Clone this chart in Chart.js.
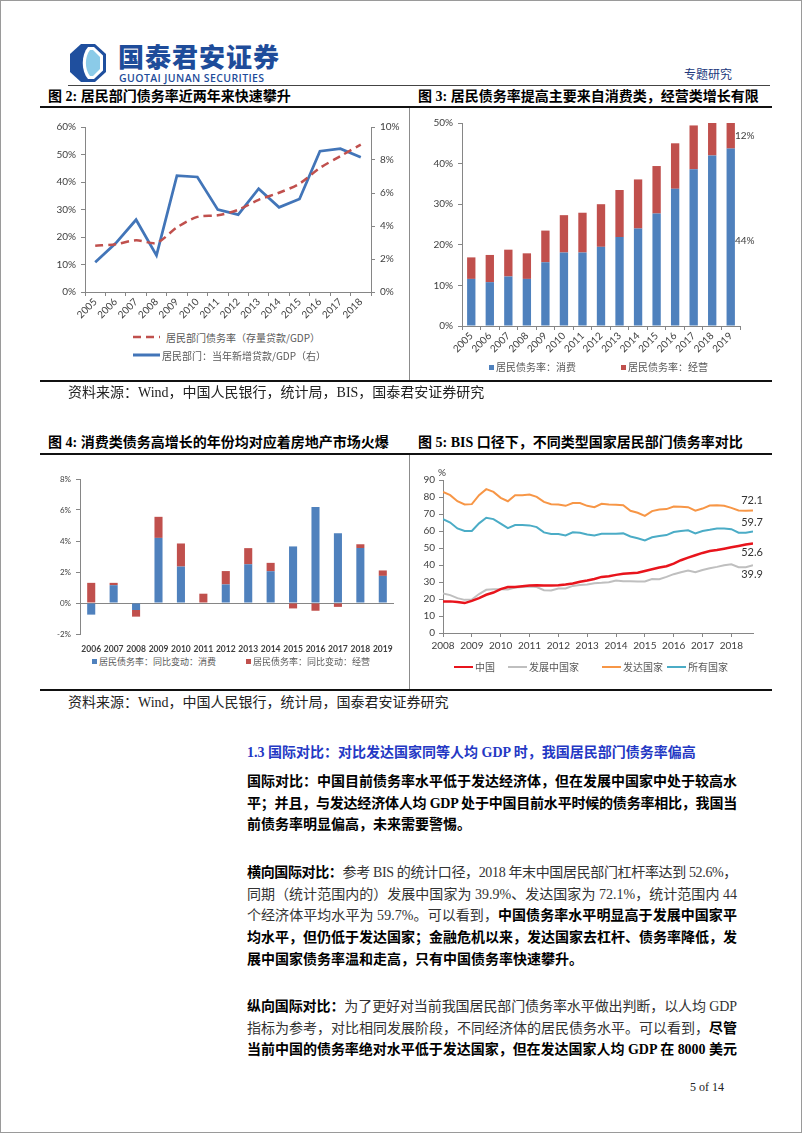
<!DOCTYPE html>
<html lang="zh-CN">
<head>
<meta charset="utf-8">
<title>居民部门债务率</title>
<script src="https://cdn.jsdelivr.net/npm/chart.js@4.4.1/dist/chart.umd.min.js"></script>
<style>
  html, body { margin: 0; padding: 0; background: #fff; }
  #page { position: relative; width: 802px; height: 1133px; overflow: hidden;
          font-family: "Liberation Serif", "Noto Sans CJK SC", serif; color: #222; }
  #page > * { position: absolute; }
  .frame { left: 0; top: 0; width: 800px; height: 1131px; border: 1px solid #9a9a9a; }
  .title { font-weight: bold; font-size: 14px; line-height: 18px; color: #000; white-space: nowrap; }
  .thick { left: 40px; width: 732px; height: 2px; background: #111; }
  .vline { left: 409px; width: 1px; background: #8c8c8c; }
  .src { left: 68px; font-size: 14px; line-height: 18px; color: #222; white-space: nowrap; }
  .lg { font-family: "Noto Sans CJK SC", sans-serif; font-size: 10px; line-height: 14px; color: #595959; white-space: nowrap; }
  .sq { display: inline-block; width: 5px; height: 5px; margin-right: 2px; vertical-align: 1px; }
  .ln { display: inline-block; width: 19px; height: 2px; margin-right: 2px; vertical-align: 3px; }
  .body { left: 247px; width: 490px; font-size: 14px; line-height: 21.7px; color: #333; }
  .body b { color: #000; font-weight: bold; }
  .body span { white-space: nowrap; }
</style>
</head>
<body>
<div id="page">
  <div class="frame"></div>

  <!-- header -->
  <svg style="left:70px;top:44px" width="36" height="38" viewBox="0 0 36 38">
    <polygon points="11,0 25,0 36,10 36,28 25,38 11,38 0,28 0,10" fill="#1f4f9e"/>
    <path d="M18,3 L24,3 L33,11.5 L33,26.5 L24,35 L18,35 C11,27 11,11 18,3Z" fill="#ffffff"/>
    <path d="M20,6 L23,6 L30,13 L30,25 L23,32 L20,32 C14.5,25 14.5,13 20,6Z" fill="#8bcbe8"/>
  </svg>
  <div style="left:118px;top:41px;font-family:'Noto Sans CJK SC';font-weight:900;font-size:26px;line-height:30px;letter-spacing:1px;color:#1e4c9a;white-space:nowrap">国泰君安证券</div>
  <div style="left:119px;top:72px;font-family:'Open Sans';font-weight:600;font-size:10.5px;line-height:12px;letter-spacing:0.4px;color:#1e4c9a;white-space:nowrap">GUOTAI JUNAN SECURITIES</div>
  <div style="left:684px;top:66px;font-family:'Noto Sans CJK SC';font-size:12px;line-height:15px;color:#22397d;white-space:nowrap">专题研究</div>
  <div style="left:68px;top:85px;width:702px;height:1px;background:#444"></div>

  <!-- row 1 -->
  <div class="title" style="left:48px;top:88px">图 2: 居民部门债务率近两年来快速攀升</div>
  <div class="title" style="left:418px;top:88px">图 3: 居民债务率提高主要来自消费类，经营类增长有限</div>
  <div class="thick" style="top:106px"></div>
  <div class="vline" style="top:108px;height:272px"></div>
  <canvas id="c2" width="360" height="215" style="left:40px;top:115px"></canvas>
  <canvas id="c3" width="390" height="245" style="left:410px;top:112px"></canvas>
  <div class="lg" style="left:133px;top:331px">
    <svg width="27" height="4" style="margin-right:6px;vertical-align:3px"><line x1="0" y1="2" x2="27" y2="2" stroke="#c0504d" stroke-width="2.5" stroke-dasharray="8,5"/></svg>居民部门债务率（存量贷款/GDP）
  </div>
  <div class="lg" style="left:133px;top:349px">
    <svg width="27" height="4" style="margin-right:2px;vertical-align:3px"><line x1="0" y1="2" x2="27" y2="2" stroke="#4275b8" stroke-width="3"/></svg>居民部门：当年新增贷款/GDP（右）
  </div>
  <div class="lg" style="left:489px;top:360px"><span class="sq" style="background:#4f81bd"></span>居民债务率：消费</div>
  <div class="lg" style="left:621px;top:360px"><span class="sq" style="background:#c0504d"></span>居民债务率：经营</div>
  <div class="thick" style="top:380px"></div>
  <div class="src" style="top:384px">资料来源：Wind，中国人民银行，统计局，BIS，国泰君安证券研究</div>

  <!-- row 2 -->
  <div class="title" style="left:48px;top:434px">图 4: 消费类债务高增长的年份均对应着房地产市场火爆</div>
  <div class="title" style="left:418px;top:434px">图 5: BIS 口径下，不同类型国家居民部门债务率对比</div>
  <div class="thick" style="top:453px"></div>
  <div class="vline" style="top:455px;height:235px"></div>
  <canvas id="c4" width="360" height="190" style="left:40px;top:465px"></canvas>
  <canvas id="c5" width="390" height="195" style="left:410px;top:465px"></canvas>
  <div class="lg" style="left:92px;top:655px;font-size:9px"><span class="sq" style="background:#4f81bd"></span>居民债务率：同比变动：消费</div>
  <div class="lg" style="left:246px;top:655px;font-size:9px"><span class="sq" style="background:#c0504d"></span>居民债务率：同比变动：经营</div>
  <div class="lg" style="left:454px;top:660px"><span class="ln" style="background:#e8141c"></span>中国</div>
  <div class="lg" style="left:508px;top:660px"><span class="ln" style="background:#bfbfbf"></span>发展中国家</div>
  <div class="lg" style="left:602px;top:660px"><span class="ln" style="background:#f79646"></span>发达国家</div>
  <div class="lg" style="left:667px;top:660px"><span class="ln" style="background:#4bacc6"></span>所有国家</div>
  <div class="thick" style="top:689px"></div>
  <div class="src" style="top:694px">资料来源：Wind，中国人民银行，统计局，国泰君安证券研究</div>

  <!-- text -->
  <div style="left:247px;top:742px;font-size:14px;line-height:22px;font-weight:bold;color:#2438c4;white-space:nowrap">1.3 国际对比：对比发达国家同等人均 GDP 时，我国居民部门债务率偏高</div>
  <div class="body" style="top:771px">
    <div><span class="jl"><b>国际对比：中国目前债务率水平低于发达经济体，但在发展中国家中处于较高水</b></span></div>
    <div><span class="jl"><b>平；并且，与发达经济体人均 GDP 处于中国目前水平时候的债务率相比，我国当</b></span></div>
    <div><span><b>前债务率明显偏高，未来需要警惕。</b></span></div>
  </div>
  <div class="body" style="top:862px">
    <div><span class="jl"><b>横向国际对比：</b>参考 BIS 的统计口径，2018 年末中国居民部门杠杆率达到 52.6%，</span></div>
    <div><span class="jl">同期（统计范围内的）发展中国家为 39.9%、发达国家为 72.1%，统计范围内 44</span></div>
    <div><span class="jl">个经济体平均水平为 59.7%。可以看到，<b>中国债务率水平明显高于发展中国家平</b></span></div>
    <div><span class="jl"><b>均水平，但仍低于发达国家；金融危机以来，发达国家去杠杆、债务率降低，发</b></span></div>
    <div><span><b>展中国家债务率温和走高，只有中国债务率快速攀升。</b></span></div>
  </div>
  <div class="body" style="top:996px">
    <div><span class="jl"><b>纵向国际对比：</b>为了更好对当前我国居民部门债务率水平做出判断，以人均 GDP</span></div>
    <div><span class="jl">指标为参考，对比相同发展阶段，不同经济体的居民债务水平。可以看到，<b>尽管</b></span></div>
    <div><span class="jl"><b>当前中国的债务率绝对水平低于发达国家，但在发达国家人均 GDP 在 8000 美元</b></span></div>
  </div>
  <div style="left:690px;top:1079px;font-size:12px;line-height:16px;color:#222">5 of 14</div>
</div>

<script>
// ---- data ----
// 图2
const years2 = ['2005', '2006', '2007', '2008', '2009', '2010', '2011', '2012', '2013', '2014', '2015', '2016', '2017', '2018'];
const debtRatio = [16.8, 17.4, 18.8, 17.9, 23.5, 27.3, 27.9, 29.9, 33.5, 36.1, 39.4, 45.1, 49.4, 53.6];
const newLoanRatio = [1.8, 2.95, 4.38, 2.22, 7.05, 6.97, 4.99, 4.69, 6.26, 5.13, 5.64, 8.53, 8.69, 8.16];
const ticksLeft2 = [0, 10, 20, 30, 40, 50, 60];
const ticksRight2 = [0, 2, 4, 6, 8, 10];

// 图3
const years3 = ['2005', '2006', '2007', '2008', '2009', '2010', '2011', '2012', '2013', '2014', '2015', '2016', '2017', '2018', '2019'];
const consumerDebt = [11.6, 10.8, 12.2, 11.6, 15.7, 18.1, 18.1, 19.5, 21.9, 24.0, 27.7, 33.8, 38.6, 42.0, 43.7];
const businessDebt = [5.3, 6.7, 6.6, 6.3, 7.8, 9.2, 9.8, 10.5, 11.6, 12.1, 11.7, 11.2, 10.8, 11.5, 12.3];
const ticks3 = [0, 10, 20, 30, 40, 50];

// 图4
const years4 = ['2006', '2007', '2008', '2009', '2010', '2011', '2012', '2013', '2014', '2015', '2016', '2017', '2018', '2019'];
const consumerChange = [-0.75, 1.15, -0.45, 4.2, 2.35, 0.0, 1.2, 2.5, 2.05, 3.65, 6.2, 4.5, 3.55, 1.75];
const businessChange = [1.3, 0.15, -0.43, 1.36, 1.49, 0.6, 0.86, 1.04, 0.54, -0.35, -0.5, -0.25, 0.24, 0.35];
const ticks4 = [-2, 0, 2, 4, 6, 8];

// 图5 (quarterly, 2008Q1 - 2018Q4)
const years5 = ['2008', '2009', '2010', '2011', '2012', '2013', '2014', '2015', '2016', '2017', '2018'];
const china = [18.6, 18.6, 18.2, 17.6, 18.9, 20.5, 22.5, 23.8, 25.8, 27.0, 27.1, 27.5, 27.9, 28.1, 27.9, 27.9, 28.1, 28.5, 29.1, 30.1, 30.9, 31.8, 33.0, 33.4, 34.2, 34.8, 35.2, 35.5, 36.5, 37.5, 38.5, 39.3, 40.8, 42.8, 44.3, 45.7, 47.1, 48.2, 48.8, 49.6, 50.4, 51.2, 52.0, 52.6];
const developing = [23.2, 22.3, 20.5, 19.5, 19.7, 22.9, 25.4, 25.8, 25.8, 25.6, 26.8, 27.1, 27.3, 27.0, 25.2, 25.0, 26.2, 26.2, 27.7, 28.3, 28.5, 29.3, 29.5, 29.9, 30.9, 30.5, 30.5, 30.3, 30.3, 31.8, 31.6, 33.0, 34.6, 35.7, 36.7, 35.7, 37.1, 38.1, 38.9, 39.8, 40.4, 38.7, 38.7, 39.9];
const advanced = [83.0, 81.1, 77.5, 75.6, 75.8, 81.1, 84.6, 83.0, 79.5, 77.5, 81.1, 81.1, 81.4, 80.1, 77.1, 75.8, 75.6, 74.8, 76.4, 76.4, 74.8, 74.0, 76.0, 75.6, 75.4, 75.2, 71.9, 70.7, 68.9, 71.7, 72.7, 72.9, 74.4, 74.2, 74.0, 71.9, 73.2, 75.0, 75.2, 74.8, 73.6, 72.1, 71.9, 72.1];
const allCountries = [67.0, 65.0, 61.5, 60.0, 60.0, 64.5, 67.8, 67.0, 64.3, 61.7, 63.5, 63.5, 63.3, 62.3, 59.2, 58.2, 58.2, 57.4, 59.2, 59.0, 58.0, 57.4, 58.4, 58.4, 58.4, 58.6, 56.8, 55.7, 54.5, 56.3, 57.0, 57.6, 59.4, 60.0, 60.4, 58.6, 60.0, 60.7, 61.5, 61.5, 61.1, 59.0, 59.0, 59.7];
const ticks5 = [0, 10, 20, 30, 40, 50, 60, 70, 80, 90];

// ---- common style ----
Chart.defaults.font.family = 'Lato, "Noto Sans", sans-serif';
Chart.defaults.font.size = 10;
Chart.defaults.color = '#404040';
Chart.defaults.animation = false;
Chart.defaults.responsive = false;
Chart.defaults.plugins.legend.display = false;
Chart.defaults.plugins.tooltip.enabled = false;

const axisGray = '#868686';
const pct = v => v + '%';

function tickAxis(extra) {
    return Object.assign({
        grid: { display: true, drawOnChartArea: false, tickLength: 4, tickColor: axisGray },
        border: { display: true, color: axisGray }
    }, extra);
}
function fixedTicks(values) {
    return scale => { scale.ticks = values.map(v => ({ value: v })); };
}

// 图2
new Chart(document.getElementById('c2'), {
    type: 'line',
    data: {
        labels: years2,
        datasets: [{
            label: '居民部门债务率（存量贷款/GDP）',
            data: debtRatio,
            yAxisID: 'y',
            borderColor: '#c0504d',
            borderDash: [8, 5],
            borderWidth: 2.5,
            pointRadius: 0,
            tension: 0.3
        }, {
            label: '居民部门：当年新增贷款/GDP（右）',
            data: newLoanRatio,
            yAxisID: 'y1',
            borderColor: '#4275b8',
            borderWidth: 2.75,
            pointRadius: 0,
            tension: 0
        }]
    },
    options: {
        layout: { padding: { top: 12 } },
        scales: {
            x: tickAxis({
                offset: true,
                grid: { display: true, drawOnChartArea: false, offset: true, tickLength: 4, tickColor: axisGray },
                ticks: { minRotation: 45, maxRotation: 45, autoSkip: false, padding: 0 },
                afterFit: s => { s.height = 38; }
            }),
            y: tickAxis({
                position: 'left', min: 0, max: 60,
                ticks: { callback: pct, padding: 5 },
                afterBuildTicks: fixedTicks(ticksLeft2),
                afterFit: s => { s.width = 45; }
            }),
            y1: tickAxis({
                position: 'right', min: 0, max: 10,
                ticks: { callback: pct, padding: 5 },
                afterBuildTicks: fixedTicks(ticksRight2),
                afterFit: s => { s.width = 29; }
            })
        }
    }
});

// 图3: labels on the last stack
const lastBarLabels = {
    id: 'lastBarLabels',
    afterDatasetsDraw(chart) {
        const ctx = chart.ctx;
        const area = chart.chartArea;
        ctx.save();
        ctx.font = '10px Lato, "Noto Sans", sans-serif';
        ctx.fillStyle = '#404040';
        ctx.textAlign = 'left';
        ctx.textBaseline = 'middle';
        chart.data.datasets.forEach((ds, i) => {
            const meta = chart.getDatasetMeta(i);
            const bar = meta.data[meta.data.length - 1];
            const top = Math.max(bar.y, area.top);
            const y = (top + Math.min(bar.base, area.bottom)) / 2 + (i === 0 ? 4 : 0);
            ctx.fillText(Math.round(ds.data[ds.data.length - 1]) + '%', bar.x + bar.width / 2, y);
        });
        ctx.restore();
    }
};

new Chart(document.getElementById('c3'), {
    type: 'bar',
    data: {
        labels: years3,
        datasets: [{
            label: '居民债务率：消费',
            data: consumerDebt,
            backgroundColor: '#4f81bd'
        }, {
            label: '居民债务率：经营',
            data: businessDebt,
            backgroundColor: '#c0504d'
        }]
    },
    options: {
        layout: { padding: { top: 9, right: 60 } },
        datasets: { bar: { categoryPercentage: 0.9, barPercentage: 0.5 } },
        scales: {
            x: tickAxis({
                stacked: true,
                grid: { display: true, drawOnChartArea: false, offset: true, tickLength: 4, tickColor: axisGray },
                ticks: { minRotation: 45, maxRotation: 45, autoSkip: false, padding: 0 },
                afterFit: s => { s.height = 31; }
            }),
            y: tickAxis({
                stacked: true, min: 0, max: 50,
                ticks: { callback: pct, padding: 5 },
                afterBuildTicks: fixedTicks(ticks3),
                afterFit: s => { s.width = 52; }
            })
        }
    },
    plugins: [lastBarLabels]
});

// 图4
new Chart(document.getElementById('c4'), {
    type: 'bar',
    data: {
        labels: years4,
        datasets: [{
            label: '居民债务率：同比变动：消费',
            data: consumerChange,
            backgroundColor: '#4f81bd'
        }, {
            label: '居民债务率：同比变动：经营',
            data: businessChange,
            backgroundColor: '#c0504d'
        }]
    },
    options: {
        layout: { padding: { top: 14, right: 6 } },
        datasets: { bar: { categoryPercentage: 0.8, barPercentage: 0.45 } },
        scales: {
            x: {
                stacked: true,
                grid: { display: false },
                border: { display: false },
                ticks: { font: { size: 8.5, weight: 'bold' }, color: '#404040', padding: 2,
                         autoSkip: false, minRotation: 0, maxRotation: 0 },
                afterFit: s => { s.height = 21; }
            },
            y: {
                stacked: true, min: -2, max: 8,
                grid: {
                    display: true,
                    tickLength: 4,
                    tickColor: axisGray,
                    color: c => (c.tick && c.tick.value === 0 ? axisGray : 'rgba(0,0,0,0)')
                },
                border: { display: true, color: axisGray },
                ticks: { callback: pct, font: { size: 8 }, padding: 5 },
                afterBuildTicks: fixedTicks(ticks4),
                afterFit: s => { s.width = 40; }
            }
        }
    }
});

// 图5: end value labels and the "%" unit
const endLabels = {
    id: 'endLabels',
    afterDatasetsDraw(chart, args, opts) {
        const ctx = chart.ctx;
        ctx.save();
        ctx.font = '11px Lato, "Noto Sans", sans-serif';
        ctx.fillStyle = '#333';
        ctx.textAlign = 'center';
        ctx.textBaseline = 'middle';
        chart.data.datasets.forEach((ds, i) => {
            const meta = chart.getDatasetMeta(i);
            const pt = meta.data[meta.data.length - 1];
            const v = ds.data[ds.data.length - 1].y;
            ctx.fillText(v.toFixed(1), pt.x - 1, pt.y + opts.offsets[i]);
        });
        ctx.font = '10px Lato, "Noto Sans", sans-serif';
        ctx.fillStyle = '#404040';
        ctx.fillText('%', chart.chartArea.left - 1, chart.chartArea.top - 7);
        ctx.restore();
    }
};
const quarterPoints = arr => arr.map((v, i) => ({ x: i, y: v }));

new Chart(document.getElementById('c5'), {
    type: 'line',
    data: {
        datasets: [{
            label: '中国',
            data: quarterPoints(china),
            borderColor: '#e8141c',
            borderWidth: 2.5
        }, {
            label: '发展中国家',
            data: quarterPoints(developing),
            borderColor: '#bfbfbf',
            borderWidth: 2
        }, {
            label: '发达国家',
            data: quarterPoints(advanced),
            borderColor: '#f79646',
            borderWidth: 2
        }, {
            label: '所有国家',
            data: quarterPoints(allCountries),
            borderColor: '#4bacc6',
            borderWidth: 2
        }]
    },
    options: {
        layout: { padding: { top: 15, right: 47 } },
        elements: { point: { radius: 0 }, line: { tension: 0 } },
        scales: {
            x: tickAxis({
                type: 'linear', min: 0, max: 43,
                ticks: { callback: v => years5[v / 4], padding: 3 },
                afterBuildTicks: scale => {
                    scale.ticks = years5.map((y, i) => ({ value: i * 4 }));
                },
                afterFit: s => { s.height = 27; }
            }),
            y: tickAxis({
                min: 0, max: 90,
                ticks: { padding: 4 },
                afterBuildTicks: fixedTicks(ticks5),
                afterFit: s => { s.width = 33; }
            })
        },
        plugins: { endLabels: { offsets: [9, 9, -10, -9] } }
    },
    plugins: [endLabels]
});

// stretch the full-width body lines like justified print text
document.querySelectorAll('.jl').forEach(el => {
    const w = el.getBoundingClientRect().width;
    const n = el.textContent.length;
    el.style.letterSpacing = ((490 - w) / n) + 'px';
});
</script>
</body>
</html>
